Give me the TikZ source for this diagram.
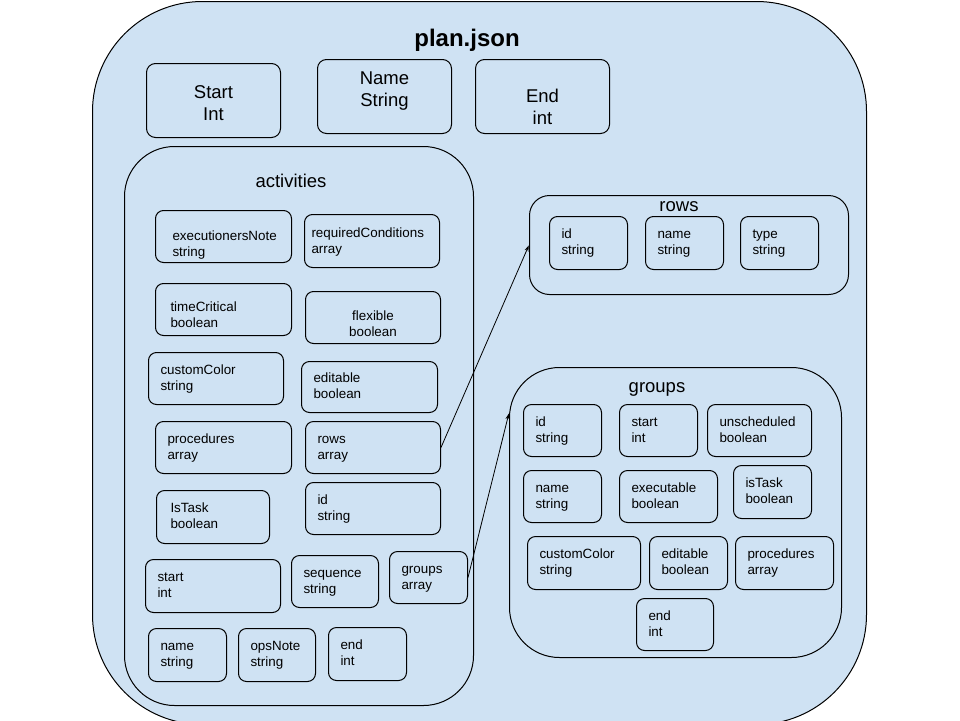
\documentclass[tikz,border=0pt]{standalone}
\usepackage{fontspec}
\setmainfont{Liberation Sans}
\usepackage{xcolor}
\usetikzlibrary{arrows.meta,positioning,calc}

\definecolor{planblue}{HTML}{CFE2F3}
\newcommand{\fieldfont}{\fontsize{13.4}{16}\selectfont}
\newcommand{\headfont}{\fontsize{18.5}{22}\selectfont}

\begin{document}
\begin{tikzpicture}[
    x=1pt, y=-1pt,
    >=Stealth,
    line width=1pt,
    container/.style={draw, fill=planblue, anchor=north west, inner sep=0pt},
    field/.style={draw, fill=planblue, rounded corners=8pt, anchor=north west,
                  align=left, inner xsep=12pt, inner ysep=0pt, font=\fieldfont,
                  text height=10.8pt, text depth=19pt},
    topfield/.style={draw, fill=planblue, rounded corners=9pt, anchor=north west,
                     align=center, inner xsep=12pt, inner ysep=0pt,
                     text width=110pt, minimum height=74pt, font=\headfont,
                     text height=15pt, text depth=26pt},
    heading/.style={font=\headfont, inner sep=0pt},
    link/.style={line width=0.8pt, shorten >=0.5pt,
                 -{Stealth[length=6pt, width=4pt]}}
]
    \fill[white] (0,0) rectangle (960,720);
    \useasboundingbox (0,0) rectangle (960,720);

    % plan.json
    \node[container, rounded corners=110pt, minimum width=774pt,
          minimum height=723pt] (plan) at (92,1) {};
    \node[font=\fontsize{24}{28}\selectfont\bfseries, inner sep=0pt]
        (planTitle) at (467,40) {plan.json};

    \node[topfield, text height=21pt] (topStart) at (146,63) {Start\\Int};
    \node[topfield, text height=1pt]  (topName)  at (317,59) {Name\\String};
    \node[topfield, text height=37pt] (topEnd)   at (475,59) {End\\int};

    % activities
    \node[container, rounded corners=50pt, minimum width=349pt,
          minimum height=559pt] (activities) at (124,146) {};
    \node[heading] (activitiesTitle) at (291,181) {activities};

    \node[field, text width=102pt, inner xsep=17pt, minimum height=52pt, text height=26.8pt]
        (exNote) at (155,210) {executionersNote\\string};
    \node[field, text width=121pt, inner xsep=7pt, minimum height=53pt, text height=12.8pt]
        (reqCond) at (304,214) {requiredConditions\\array};
    \node[field, text width=106pt, inner xsep=15pt, minimum height=52pt, text height=22.8pt]
        (timeCrit) at (155,283) {timeCritical\\boolean};
    \node[field, text width=111pt, align=center, minimum height=52pt, text height=24.8pt]
        (flexible) at (305,291) {flexible\\boolean};
    \node[field, text width=111pt, minimum height=52pt]
        (custColor) at (148,352) {customColor\\string};
    \node[field, text width=112pt, minimum height=51pt]
        (editable) at (301,361) {editable\\boolean};
    \node[field, text width=112pt, minimum height=52pt]
        (procs) at (155,421) {procedures\\array};
    \node[field, text width=111pt, minimum height=52pt]
        (rowsArr) at (305,421) {rows\\array};
    \node[field, text width=85pt, inner xsep=14pt, minimum height=53pt]
        (isTask) at (156,490) {IsTask\\boolean};
    \node[field, text width=111pt, minimum height=52pt]
        (actId) at (305,482) {id\\string};
    \node[field, text width=111pt, minimum height=53pt]
        (actStart) at (145,559) {start\\int};
    \node[field, text width=63pt, minimum height=52pt]
        (sequence) at (291,555) {sequence\\string};
    \node[field, text width=54pt, minimum height=52pt]
        (groupsArr) at (389,551) {groups\\array};
    \node[field, text width=54pt, minimum height=53pt]
        (actName) at (148,628) {name\\string};
    \node[field, text width=53pt, minimum height=53pt]
        (opsNote) at (238,628) {opsNote\\string};
    \node[field, text width=54pt, minimum height=53pt]
        (actEnd) at (328,627) {end\\int};

    % rows
    \node[container, rounded corners=20pt, minimum width=319pt,
          minimum height=99pt] (rowsBox) at (529,195) {};
    \node[heading] (rowsTitle) at (679,207) {rows};

    \node[field, text width=54pt, minimum height=53pt]
        (rowId) at (549,216) {id\\string};
    \node[field, text width=54pt, minimum height=53pt]
        (rowName) at (645,216) {name\\string};
    \node[field, text width=54pt, minimum height=53pt]
        (rowType) at (740,216) {type\\string};

    % groups
    \node[container, rounded corners=50pt, minimum width=332pt,
          minimum height=290pt] (groupsBox) at (509,367) {};
    \node[heading] (groupsTitle) at (657,389) {groups};

    \node[field, text width=54pt, minimum height=52pt]
        (grpId) at (523,404) {id\\string};
    \node[field, text width=54pt, minimum height=52pt]
        (grpStart) at (619,404) {start\\int};
    \node[field, text width=80pt, minimum height=52pt]
        (unsched) at (707,404) {unscheduled\\boolean};
    \node[field, text width=54pt, minimum height=52pt]
        (grpName) at (523,470) {name\\string};
    \node[field, text width=74pt, minimum height=52pt]
        (execut) at (619,470) {executable\\boolean};
    \node[field, text width=54pt, minimum height=53pt]
        (grpTask) at (733,465) {isTask\\boolean};
    \node[field, text width=89pt, minimum height=53pt]
        (grpColor) at (527,536) {customColor\\string};
    \node[field, text width=54pt, minimum height=53pt]
        (grpEdit) at (649,536) {editable\\boolean};
    \node[field, text width=74pt, minimum height=53pt]
        (grpProcs) at (735,536) {procedures\\array};
    \node[field, text width=53pt, minimum height=52pt]
        (grpEnd) at (636,598) {end\\int};

    % links to nested objects
    \draw[link] (rowsArr.east) -- (rowsBox.west);
    \draw[link] (groupsArr.east) -- ([yshift=-46pt]groupsBox.north west);
\end{tikzpicture}
\end{document}
